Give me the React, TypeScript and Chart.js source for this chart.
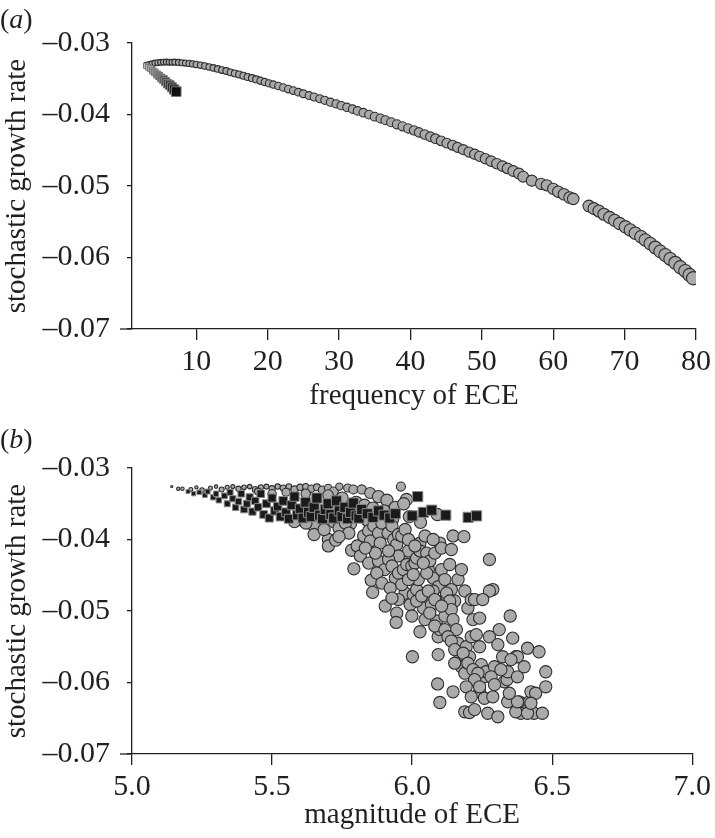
import React, { useEffect, useRef } from 'react';
import { Chart, registerables } from 'chart.js';

Chart.register(...registerables);

const FONT = "'Liberation Serif', 'Times New Roman', serif";
const INK = '#231f20';
const TICK_SIZE = 30;
const TITLE_SIZE = 29;

// ---------- tick values / labels ----------
const yTickValues = [-0.07, -0.06, -0.05, -0.04, -0.03];
const yTickLabels = ['–0.07', '–0.06', '–0.05', '–0.04', '–0.03'];
const xTickValuesA = [10, 20, 30, 40, 50, 60, 70, 80];
const xTickLabelsA = ['10', '20', '30', '40', '50', '60', '70', '80'];
const xTickValuesB = [5, 5.5, 6, 6.5, 7];
const xTickLabelsB = ['5.0', '5.5', '6.0', '6.5', '7.0'];

// ---------- panel (a): frequency of ECE vs stochastic growth rate ----------
const aCircles: [number, number][] = [
  [3.0, -0.0331], [3.4, -0.033], [3.8, -0.0329], [4.2, -0.0328], [4.6, -0.03275],
  [5.0, -0.0327], [5.4, -0.03268], [5.8, -0.03266], [6.2, -0.03268], [6.6, -0.0327],
  [7.0, -0.03268], [7.5, -0.03272], [8.0, -0.03276], [8.5, -0.0328], [9.0, -0.03285],
  [9.5, -0.03292], [10.0, -0.033], [10.6, -0.0331], [11.2, -0.03322], [11.8, -0.03335],
  [12.4, -0.03348], [13.0, -0.03362], [13.6, -0.03378], [14.2, -0.03392], [14.8, -0.0341],
  [15.4, -0.03425], [16.0, -0.0344], [16.6, -0.03458], [17.2, -0.03475], [17.8, -0.03492],
  [18.4, -0.0351], [19.0, -0.03528], [19.6, -0.03546], [20.2, -0.03565], [20.8, -0.03582],
  [21.5, -0.03602], [22.2, -0.03622], [22.9, -0.03645], [23.6, -0.03665], [24.3, -0.03688],
  [25.0, -0.0371], [25.8, -0.03735], [26.5, -0.03755], [27.3, -0.0378], [28.0, -0.03802],
  [28.8, -0.03828], [29.6, -0.03852], [30.3, -0.03876], [31.1, -0.039], [31.9, -0.03925],
  [32.6, -0.0395], [33.4, -0.03975], [34.2, -0.04002], [35.0, -0.0403], [35.8, -0.04055],
  [36.5, -0.0408], [37.3, -0.04108], [38.1, -0.04138], [38.9, -0.04165], [39.7, -0.04195],
  [40.5, -0.04222], [41.2, -0.0425], [42.0, -0.0428], [42.8, -0.0431], [43.5, -0.04338],
  [44.3, -0.04368], [45.1, -0.044], [45.9, -0.0443], [46.6, -0.0446], [47.4, -0.04492],
  [48.2, -0.04525], [49.0, -0.04555], [49.7, -0.04585], [50.5, -0.04618], [51.3, -0.04652],
  [52.1, -0.04688], [52.9, -0.04722], [53.6, -0.04755], [54.4, -0.0479], [55.2, -0.04825],
  [55.8, -0.0487], [57.0, -0.04925], [58.3, -0.0497], [59.1, -0.0499], [60.0, -0.0504],
  [60.7, -0.0508], [61.5, -0.05115], [62.3, -0.0516], [62.8, -0.0518], [65.0, -0.0528],
  [65.7, -0.05315], [66.4, -0.0535], [67.1, -0.05395], [67.9, -0.0544], [68.6, -0.0548],
  [69.3, -0.05525], [70.1, -0.0557], [70.8, -0.05615], [71.5, -0.0566], [72.3, -0.0571],
  [72.9, -0.05755], [73.6, -0.05805], [74.3, -0.0586], [75.0, -0.05915], [75.7, -0.05965],
  [76.4, -0.0602], [77.1, -0.06075], [77.8, -0.06135], [78.5, -0.0619], [79.1, -0.06245],
  [79.6, -0.0629],
];

const aSquares: [number, number][] = [
  [3.0, -0.0332], [3.3, -0.0334], [3.6, -0.0336], [3.9, -0.0339], [4.2, -0.0341],
  [4.5, -0.0344], [4.8, -0.0346], [5.1, -0.0349], [5.4, -0.0351], [5.7, -0.0354],
  [6.0, -0.0357], [6.3, -0.0359], [6.6, -0.0362], [6.9, -0.0365], [7.2, -0.0368],
];

// ---------- panel (b): magnitude of ECE vs stochastic growth rate ----------
const bCircles: [number, number][] = [
  [5.142, -0.0326], [5.165, -0.0329], [5.18, -0.0329], [5.21, -0.033], [5.23, -0.0327],
  [5.25, -0.0331], [5.28, -0.0328], [5.3, -0.0326], [5.32, -0.033], [5.34, -0.0327],
  [5.36, -0.0326], [5.38, -0.0329], [5.4, -0.0327], [5.42, -0.0326], [5.44, -0.033],
  [5.46, -0.0327], [5.48, -0.0326], [5.5, -0.0329], [5.52, -0.0326], [5.54, -0.0328],
  [5.56, -0.0326], [5.58, -0.033], [5.6, -0.0327], [5.62, -0.0326], [5.64, -0.0329],
  [5.66, -0.0327], [5.68, -0.0331], [5.7, -0.0328], [5.72, -0.0333], [5.74, -0.0326],
  [5.77, -0.0328], [5.79, -0.033], [5.82, -0.033], [5.85, -0.0335], [5.88, -0.034],
  [5.91, -0.0345], [5.96, -0.0326], [5.98, -0.0344], [5.7, -0.0338], [5.75, -0.0342],
  [5.8, -0.0348], [5.83, -0.0352], [5.86, -0.0356], [5.9, -0.036], [5.94, -0.0355],
  [5.97, -0.035], [5.62, -0.0336], [5.55, -0.0334], [5.5, -0.0336], [5.45, -0.0333],
  [5.6, -0.0372], [5.58, -0.0375], [5.66, -0.0378], [5.72, -0.0375], [5.78, -0.0378],
  [5.84, -0.0373], [5.88, -0.0376], [5.93, -0.0372], [5.99, -0.0368], [6.09, -0.0365],
  [6.03, -0.0376],
  [5.65, -0.0381], [5.65, -0.0393], [5.701, -0.04], [5.701, -0.0409], [5.727, -0.0401],
  [5.739, -0.0384], [5.762, -0.0377], [5.774, -0.0391], [5.784, -0.0415], [5.804, -0.0409],
  [5.815, -0.0423], [5.827, -0.0395], [5.845, -0.0388], [5.851, -0.0402], [5.863, -0.0381],
  [5.88, -0.0391], [5.886, -0.0405], [5.892, -0.0377], [5.914, -0.0391], [5.928, -0.0381],
  [5.934, -0.04], [5.945, -0.0407], [5.951, -0.0393], [5.963, -0.0395], [5.975, -0.0386],
  [5.973, -0.0423], [5.987, -0.0416], [5.951, -0.0423],
  [5.792, -0.0441], [5.845, -0.0433], [5.88, -0.043], [5.902, -0.0442], [5.916, -0.0428],
  [5.928, -0.0437], [5.94, -0.0454], [5.951, -0.0447], [5.969, -0.0442], [5.981, -0.0435],
  [5.999, -0.0437], [6.01, -0.0433], [6.016, -0.0426], [6.028, -0.0405], [6.028, -0.0416],
  [6.046, -0.0395], [6.052, -0.0419], [6.058, -0.0442], [6.063, -0.043], [6.075, -0.0454],
  [6.081, -0.0419], [6.093, -0.0466], [6.099, -0.0405], [6.105, -0.0412], [6.105, -0.0442],
  [6.117, -0.0456], [6.123, -0.0479], [6.134, -0.0435], [6.14, -0.0414], [6.14, -0.047],
  [6.146, -0.0395], [6.152, -0.0486], [6.164, -0.0456], [6.176, -0.0442], [6.185, -0.0396],
  [6.188, -0.0472], [6.199, -0.0496], [6.211, -0.0484], [6.217, -0.0512], [6.241, -0.051],
  [6.276, -0.0428], [6.288, -0.047], [6.276, -0.0472], [6.223, -0.0484], [6.252, -0.0484],
  [5.854, -0.0457], [5.859, -0.0474], [5.904, -0.0493], [5.945, -0.0503], [5.943, -0.0516],
  [5.975, -0.0475], [5.993, -0.0491], [5.999, -0.0507], [6.004, -0.0477], [6.016, -0.047],
  [6.022, -0.0456], [6.028, -0.0529], [6.04, -0.0496], [6.046, -0.0512], [6.052, -0.0447],
  [6.069, -0.0491], [6.075, -0.0472], [6.087, -0.0514], [6.093, -0.0536], [6.099, -0.0526],
  [6.117, -0.0507], [6.123, -0.0475], [6.134, -0.0486], [6.14, -0.0498], [6.146, -0.0512],
  [6.158, -0.0526], [6.164, -0.0545], [6.17, -0.0561], [6.176, -0.0578], [6.188, -0.0587],
  [6.193, -0.055], [6.205, -0.0564], [6.211, -0.0536], [6.229, -0.0533], [6.241, -0.055],
  [6.247, -0.0575], [6.258, -0.0592], [6.264, -0.0585], [6.276, -0.0536], [6.294, -0.0578],
  [6.306, -0.0547], [6.311, -0.0526], [6.323, -0.0564], [6.329, -0.0599], [6.339, -0.0596],
  [6.341, -0.0585], [6.35, -0.0507], [6.359, -0.0538], [6.37, -0.0564], [6.376, -0.0564],
  [6.382, -0.0627], [6.388, -0.0643], [6.412, -0.0552], [6.418, -0.0627], [6.424, -0.0613],
  [6.435, -0.0643], [6.441, -0.0615], [6.453, -0.0557], [6.477, -0.0606], [6.477, -0.0585],
  [6.465, -0.0643],
  [6.001, -0.0564], [6.093, -0.0561], [6.091, -0.0602], [6.099, -0.0628], [6.146, -0.0613],
  [6.188, -0.0641], [6.205, -0.0642], [6.223, -0.0638], [6.241, -0.0613], [6.258, -0.0622],
  [6.27, -0.0643], [6.288, -0.062], [6.306, -0.0648], [6.341, -0.0627], [6.37, -0.0641],
  [6.376, -0.0627], [6.412, -0.0643], [6.424, -0.0629],
  [5.874, -0.0447], [5.892, -0.0461], [5.922, -0.0468], [5.963, -0.0463], [5.987, -0.0456],
  [6.016, -0.0486], [6.034, -0.0479], [6.058, -0.0472], [6.081, -0.0484], [6.105, -0.0493],
  [6.063, -0.0503], [6.081, -0.0521], [6.117, -0.0526], [6.128, -0.0536], [6.14, -0.0542],
  [6.152, -0.0554], [6.182, -0.0559], [6.199, -0.0573], [6.217, -0.0582], [6.235, -0.0587],
  [6.223, -0.0596], [6.241, -0.0606], [6.282, -0.0592], [6.294, -0.0603], [6.317, -0.0582],
  [6.353, -0.0568], [6.376, -0.0592], [6.4, -0.0578], [6.347, -0.0615], [6.152, -0.0573],
  [6.193, -0.0606], [6.211, -0.062], [6.004, -0.0449], [5.951, -0.0484], [5.928, -0.0482],
  [6.04, -0.0433], [5.987, -0.04], [6.01, -0.0409], [6.075, -0.04], [5.916, -0.0416],
  [5.869, -0.0419], [5.833, -0.0412], [5.739, -0.0396], [5.686, -0.0386], [5.621, -0.0377],
];

const bSquares: [number, number][] = [
  [5.2, -0.0333], [5.22, -0.0336], [5.24, -0.0334], [5.26, -0.0338], [5.27, -0.0333],
  [5.29, -0.0341], [5.3, -0.0336], [5.31, -0.0345], [5.33, -0.0339], [5.34, -0.035],
  [5.35, -0.0334], [5.36, -0.0343], [5.37, -0.0355], [5.38, -0.0347], [5.39, -0.0336],
  [5.4, -0.0358], [5.41, -0.035], [5.42, -0.0341], [5.43, -0.0361], [5.44, -0.0346],
  [5.45, -0.0355], [5.46, -0.0336], [5.47, -0.0365], [5.48, -0.035], [5.49, -0.037],
  [5.5, -0.0342], [5.51, -0.036], [5.52, -0.0354], [5.53, -0.0368], [5.54, -0.0346],
  [5.55, -0.0362], [5.56, -0.0371], [5.57, -0.0352], [5.58, -0.034], [5.59, -0.0366],
  [5.6, -0.0357], [5.61, -0.037], [5.62, -0.0348], [5.63, -0.0362], [5.64, -0.0368],
  [5.65, -0.0355], [5.66, -0.0342], [5.67, -0.0366], [5.68, -0.0371], [5.69, -0.0358],
  [5.7, -0.035], [5.71, -0.0365], [5.72, -0.037], [5.73, -0.0346], [5.74, -0.036],
  [5.75, -0.0368], [5.76, -0.0355], [5.77, -0.0371], [5.78, -0.0362], [5.79, -0.0349],
  [5.8, -0.0367], [5.81, -0.037], [5.82, -0.0358], [5.84, -0.0364], [5.86, -0.0369],
  [5.88, -0.036], [5.9, -0.0366], [5.92, -0.037], [5.94, -0.0364], [6.0, -0.0367],
  [6.02, -0.034], [6.04, -0.0362], [6.07, -0.0359], [6.12, -0.0366], [6.2, -0.0369],
  [6.23, -0.0367],
];

// ---------- helpers ----------
const toPts = (arr: [number, number][]) => arr.map(([x, y]) => ({ x, y }));
const clamp = (v: number, lo: number, hi: number) => Math.max(lo, Math.min(hi, v));

const axisStub = {
  id: 'axisStub',
  afterDraw(chart: any) {
    const { ctx, chartArea } = chart;
    ctx.save();
    ctx.strokeStyle = INK;
    ctx.lineWidth = 1.3;
    ctx.beginPath();
    ctx.moveTo(chartArea.left - 12, chartArea.bottom);
    ctx.lineTo(chartArea.left, chartArea.bottom);
    ctx.stroke();
    ctx.restore();
  },
};

function buildScales(opts: {
  xMin: number; xMax: number; xVals: number[]; xLabels: string[]; xTitle: string;
  xHeight: number; titlePadBottom: number;
}) {
  const tickFont = { family: FONT, size: TICK_SIZE };
  const titleFont = { family: FONT, size: TITLE_SIZE };
  return {
    x: {
      type: 'linear',
      min: opts.xMin,
      max: opts.xMax,
      afterBuildTicks: (s: any) => { s.ticks = opts.xVals.map((v) => ({ value: v })); },
      afterFit: (s: any) => { s.height = opts.xHeight; },
      ticks: {
        callback: (_v: any, i: number) => opts.xLabels[i],
        font: tickFont, color: INK, padding: 4, maxRotation: 0, autoSkip: false,
      },
      grid: { display: true, drawOnChartArea: false, drawTicks: true, tickLength: 11, color: INK, lineWidth: 1.3 },
      border: { display: true, color: INK, width: 1.3 },
      title: { display: true, text: opts.xTitle, font: titleFont, color: INK, padding: { top: 0, bottom: opts.titlePadBottom } },
    },
    y: {
      type: 'linear',
      min: -0.07,
      max: -0.03,
      afterBuildTicks: (s: any) => { s.ticks = yTickValues.map((v) => ({ value: v })); },
      afterFit: (s: any) => { s.width = 132; },
      ticks: {
        callback: (_v: any, i: number) => yTickLabels[i],
        font: tickFont, color: INK, padding: 17, autoSkip: false,
      },
      grid: { display: true, drawOnChartArea: false, drawTicks: true, tickLength: 5, color: INK, lineWidth: 1.3 },
      border: { display: true, color: INK, width: 1.3 },
      title: { display: true, text: 'stochastic growth rate', font: titleFont, color: INK, padding: { top: 0, bottom: 0 } },
    },
  };
}

function Panel(props: { top: number; height: number; config: () => any }) {
  const ref = useRef<HTMLCanvasElement | null>(null);
  useEffect(() => {
    if (!ref.current) return;
    const chart = new Chart(ref.current, props.config());
    return () => chart.destroy();
  }, []);
  return (
    <canvas
      ref={ref}
      width={715}
      height={props.height}
      style={{ position: 'absolute', left: 0, top: props.top, width: 715, height: props.height }}
    />
  );
}

const configA = () => ({
  type: 'scatter',
  data: {
    datasets: [
      {
        data: toPts(aSquares),
        pointStyle: 'rect',
        pointRadius: (c: any) => 3.8 + (c.dataIndex / (aSquares.length - 1)) * 3,
        backgroundColor: (c: any) => {
          const g = Math.round(195 - (c.dataIndex / (aSquares.length - 1)) * 180);
          return `rgb(${g},${g},${g})`;
        },
        borderColor: '#7a7a7a',
        borderWidth: 1,
      },
      {
        data: toPts(aCircles),
        pointStyle: 'circle',
        pointRadius: (c: any) => 2.8 + ((c.raw?.x ?? 3) - 3) * 0.05,
        backgroundColor: '#aaaaaa',
        borderColor: '#2e2e2e',
        borderWidth: 1.1,
      },
    ],
  },
  options: {
    animation: false,
    responsive: false,
    events: [],
    layout: { padding: { top: 43, right: 19, left: 0, bottom: 0 } },
    plugins: { legend: { display: false }, tooltip: { enabled: false } },
    scales: buildScales({
      xMin: 1, xMax: 80, xVals: xTickValuesA, xLabels: xTickLabelsA,
      xTitle: 'frequency of ECE', xHeight: 91, titlePadBottom: 6,
    }),
  },
  plugins: [axisStub],
});

const configB = () => ({
  type: 'scatter',
  data: {
    datasets: [
      {
        data: toPts(bSquares),
        pointStyle: 'rect',
        pointRadius: (c: any) => clamp(2.8 + ((c.raw?.x ?? 5.2) - 5.2) * 10, 2.8, 7.2),
        backgroundColor: '#1a1a1a',
        borderColor: '#8a8a8a',
        borderWidth: 1,
      },
      {
        data: toPts(bCircles),
        pointStyle: 'circle',
        pointRadius: (c: any) => {
          const x = c.raw?.x ?? 5.5;
          const y = c.raw?.y ?? -0.033;
          return clamp(1 + (x - 5.12) * 4.2 + (-0.0326 - y) * 1600, 1, 6.1);
        },
        backgroundColor: '#aaaaaa',
        borderColor: '#2e2e2e',
        borderWidth: 1.1,
      },
    ],
  },
  options: {
    animation: false,
    responsive: false,
    events: [],
    layout: { padding: { top: 43, right: 19, left: 0, bottom: 0 } },
    plugins: { legend: { display: false }, tooltip: { enabled: false } },
    scales: buildScales({
      xMin: 5, xMax: 7, xVals: xTickValuesB, xLabels: xTickLabelsB,
      xTitle: 'magnitude of ECE', xHeight: 84, titlePadBottom: 5,
    }),
  },
  plugins: [axisStub],
});

const panelLabelStyle = (top: number): React.CSSProperties => ({
  position: 'absolute',
  left: 0,
  top,
  fontFamily: FONT,
  fontSize: 28,
  lineHeight: '32px',
  color: INK,
  whiteSpace: 'nowrap',
});

export default function App() {
  return (
    <div style={{ position: 'absolute', left: 0, top: 0, width: 715, height: 838, background: '#fff', overflow: 'hidden' }}>
      <Panel top={0} height={420} config={configA} />
      <Panel top={425} height={413} config={configB} />
      <div style={panelLabelStyle(3)}>(<i>a</i>)</div>
      <div style={panelLabelStyle(423)}>(<i>b</i>)</div>
    </div>
  );
}
